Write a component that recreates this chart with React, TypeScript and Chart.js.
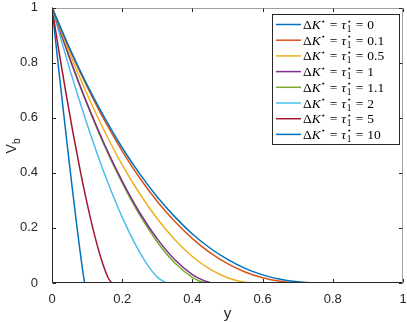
import React, { useEffect, useRef } from "react";
import { Chart, registerables } from "chart.js";

Chart.register(...registerables);

const seriesLabels = ["0", "0.1", "0.5", "1", "1.1", "2", "5", "10"];
const seriesColors = ["#0072BD", "#D95319", "#EDB120", "#7E2F8E", "#77AC30", "#4DBEEE", "#A2142F", "#0072BD"];

const xs0 = [0, 0.05, 0.1, 0.15, 0.2, 0.25, 0.3, 0.35, 0.4, 0.45, 0.5, 0.55, 0.6, 0.65, 0.7, 0.75, 0.78];
const vb0 = [1, 0.853, 0.719, 0.599, 0.491, 0.396, 0.312, 0.24, 0.178, 0.127, 0.0856, 0.0533, 0.0296, 0.0136, 0.0042, 0.0004, 0];
const xs1 = [0, 0.05, 0.1, 0.15, 0.2, 0.25, 0.3, 0.35, 0.4, 0.45, 0.5, 0.55, 0.6, 0.65, 0.7, 0.73];
const vb1 = [1, 0.849, 0.713, 0.589, 0.479, 0.381, 0.296, 0.223, 0.161, 0.11, 0.0702, 0.04, 0.0189, 0.0062, 0.0006, 0];
const xs2 = [0, 0.05, 0.1, 0.15, 0.2, 0.25, 0.3, 0.35, 0.4, 0.45, 0.5, 0.55, 0.58];
const vb2 = [1, 0.835, 0.685, 0.55, 0.429, 0.324, 0.233, 0.157, 0.0963, 0.0502, 0.019, 0.0027, 0];
const xs3 = [0, 0.05, 0.1, 0.15, 0.2, 0.25, 0.3, 0.35, 0.4, 0.43, 0.45, 0.465];
const vb3 = [1, 0.818, 0.651, 0.502, 0.37, 0.255, 0.16, 0.0843, 0.0307, 0.0103, 0.0023, 0];
const xs4 = [0, 0.05, 0.1, 0.15, 0.2, 0.25, 0.3, 0.35, 0.4, 0.42, 0.445];
const vb4 = [1, 0.816, 0.649, 0.497, 0.363, 0.246, 0.149, 0.0724, 0.0203, 0.0075, 0];
const xs5 = [0, 0.025, 0.05, 0.075, 0.1, 0.125, 0.15, 0.175, 0.2, 0.225, 0.25, 0.275, 0.3, 0.325];
const vb5 = [1, 0.887, 0.778, 0.675, 0.576, 0.483, 0.395, 0.314, 0.239, 0.171, 0.111, 0.0603, 0.0213, 0];
const xs6 = [0, 0.01, 0.02, 0.04, 0.06, 0.08, 0.1, 0.12, 0.14, 0.16, 0.17];
const vb6 = [1, 0.919, 0.839, 0.687, 0.544, 0.411, 0.289, 0.18, 0.0882, 0.019, 0];
const xs7 = [0, 0.01, 0.02, 0.03, 0.04, 0.05, 0.06, 0.07, 0.08, 0.09, 0.093];
const vb7 = [1, 0.882, 0.766, 0.652, 0.539, 0.428, 0.32, 0.215, 0.115, 0.0229, 0];

const seriesX = [xs0, xs1, xs2, xs3, xs4, xs5, xs6, xs7];
const seriesY = [vb0, vb1, vb2, vb3, vb4, vb5, vb6, vb7];

const xTicks = [0, 0.2, 0.4, 0.6, 0.8, 1];
const yTicks = [0, 0.2, 0.4, 0.6, 0.8, 1];
const xTitle = "y";
const yTitleMain = "V";
const yTitleSub = "b";

const AXIS = "#262626";
const SANS = '"Liberation Sans", Arial, sans-serif';
const SERIF = '"Liberation Serif", "DejaVu Serif", serif';

function drawLegendLabel(ctx: CanvasRenderingContext2D, x: number, cy: number, val: string) {
  const f = 13.5;
  const base = cy + 4.5;
  let cx = x;
  ctx.fillStyle = "#000";
  ctx.textAlign = "left";
  ctx.textBaseline = "alphabetic";
  const put = (t: string, font: string, dy = 0) => {
    ctx.font = font;
    ctx.fillText(t, cx, base + dy);
    return ctx.measureText(t).width;
  };
  cx += put("Δ", `${f}px ${SERIF}`);
  cx += put("K", `italic ${f}px ${SERIF}`);
  cx += put("⋆", `8px "DejaVu Sans", sans-serif`, -5.5) + 4;
  cx += put("=", `${f}px ${SERIF}`) + 4;
  cx += put("τ", `italic ${f}px ${SERIF}`) + 0.5;
  const w1 = (() => {
    ctx.font = `8px "DejaVu Sans", sans-serif`;
    ctx.fillText("⋆", cx, base - 5.5);
    const a = ctx.measureText("⋆").width;
    ctx.font = `9.5px ${SERIF}`;
    ctx.fillText("1", cx, base + 3);
    const b = ctx.measureText("1").width;
    return Math.max(a, b);
  })();
  cx += w1 + 4;
  cx += put("=", `${f}px ${SERIF}`) + 4;
  put(val, `${f}px ${SERIF}`);
}

const decorPlugin = {
  id: "decor",
  afterDatasetsDraw(chart: any) {
    const { ctx, chartArea: a, scales } = chart;
    const xs = scales.x;
    const ys = scales.y;
    ctx.save();
    ctx.lineWidth = 1;
    ctx.strokeStyle = AXIS;
    const L = Math.round(a.left) + 0.5;
    const R = Math.round(a.right) - 0.5;
    const T = Math.round(a.top) + 0.5;
    const B = Math.round(a.bottom) - 0.5;
    ctx.beginPath();
    ctx.moveTo(L, T);
    ctx.lineTo(L, B);
    ctx.lineTo(R, B);
    ctx.stroke();
    ctx.strokeStyle = "#a0a0a0";
    ctx.beginPath();
    ctx.moveTo(L, T);
    ctx.lineTo(R, T);
    ctx.lineTo(R, B);
    ctx.stroke();
    ctx.strokeStyle = AXIS;
    const tl = 3.5;
    ctx.beginPath();
    for (const v of xTicks) {
      const px = Math.round(xs.getPixelForValue(v)) + 0.5;
      ctx.moveTo(px, B);
      ctx.lineTo(px, B - tl);
      ctx.moveTo(px, T);
      ctx.lineTo(px, T + tl);
    }
    for (const v of yTicks) {
      const py = Math.round(ys.getPixelForValue(v)) + 0.5;
      ctx.moveTo(L, py);
      ctx.lineTo(L + tl, py);
      ctx.moveTo(R, py);
      ctx.lineTo(R - tl, py);
    }
    ctx.stroke();
    ctx.fillStyle = AXIS;
    ctx.font = `15px ${SANS}`;
    ctx.textAlign = "center";
    ctx.textBaseline = "alphabetic";
    ctx.fillText(xTitle, (a.left + a.right) / 2, 317.5);
    ctx.save();
    ctx.translate(16, 146);
    ctx.rotate(-Math.PI / 2);
    ctx.textAlign = "left";
    ctx.font = `14px ${SANS}`;
    const wV = ctx.measureText(yTitleMain).width;
    ctx.font = `10px ${SANS}`;
    const wb = ctx.measureText(yTitleSub).width;
    const start = -(wV + wb) / 2;
    ctx.font = `14px ${SANS}`;
    ctx.fillText(yTitleMain, start, 0);
    ctx.font = `10px ${SANS}`;
    ctx.fillText(yTitleSub, start + wV, 3.5);
    ctx.restore();
    const lx = 272.5, ly = 14.5, lw = 127, lh = 130;
    ctx.fillStyle = "#fff";
    ctx.fillRect(lx, ly, lw, lh);
    ctx.strokeStyle = AXIS;
    ctx.lineWidth = 1;
    ctx.strokeRect(lx, ly, lw, lh);
    const rowH = 15.7;
    for (let i = 0; i < seriesLabels.length; i++) {
      const cy = 24.5 + i * rowH;
      ctx.strokeStyle = seriesColors[i];
      ctx.lineWidth = 1.5;
      ctx.beginPath();
      ctx.moveTo(276, cy);
      ctx.lineTo(301, cy);
      ctx.stroke();
      drawLegendLabel(ctx, 303, cy, seriesLabels[i]);
    }
    ctx.restore();
  },
};

const zeroPad = (s: any) => {
  s.paddingTop = 0;
  s.paddingBottom = 0;
  s.paddingLeft = 0;
  s.paddingRight = 0;
};

export default function App() {
  const ref = useRef<HTMLCanvasElement | null>(null);
  useEffect(() => {
    if (!ref.current) return;
    const datasets = seriesLabels.map((lab, i) => ({
      label: lab,
      data: seriesX[i].map((x, j) => ({ x, y: seriesY[i][j] })),
      borderColor: seriesColors[i],
      backgroundColor: seriesColors[i],
      borderWidth: 1.5,
      pointRadius: 0,
      fill: false,
      cubicInterpolationMode: "monotone" as const,
    }));
    const chart = new Chart(ref.current, {
      type: "line",
      data: { datasets },
      options: {
        animation: false,
        responsive: false,
        devicePixelRatio: 1,
        layout: { padding: { top: 7.5, right: 4, left: 0, bottom: 0 } },
        plugins: { legend: { display: false }, tooltip: { enabled: false } },
        scales: {
          x: {
            type: "linear",
            min: 0,
            max: 1,
            afterBuildTicks: (s: any) => {
              s.ticks = xTicks.map((v) => ({ value: v }));
            },
            afterFit: (s: any) => {
              s.height = 39;
              zeroPad(s);
            },
            ticks: {
              color: AXIS,
              font: { family: SANS, size: 13 },
              padding: 1,
              maxRotation: 0,
              callback: (v: any) => String(v),
            },
            grid: { display: false },
            border: { display: false },
          },
          y: {
            type: "linear",
            min: 0,
            max: 1,
            afterBuildTicks: (s: any) => {
              s.ticks = yTicks.map((v) => ({ value: v }));
            },
            afterFit: (s: any) => {
              s.width = 52;
              zeroPad(s);
            },
            ticks: {
              color: AXIS,
              font: { family: SANS, size: 13 },
              padding: 6,
              callback: (v: any) => String(v),
            },
            grid: { display: false },
            border: { display: false },
          },
        },
      },
      plugins: [decorPlugin],
    });
    return () => chart.destroy();
  }, []);
  return (
    <div style={{ position: "fixed", left: 0, top: 0, width: 407, height: 322, background: "#fff" }}>
      <canvas ref={ref} width={407} height={322} style={{ display: "block" }} />
    </div>
  );
}
